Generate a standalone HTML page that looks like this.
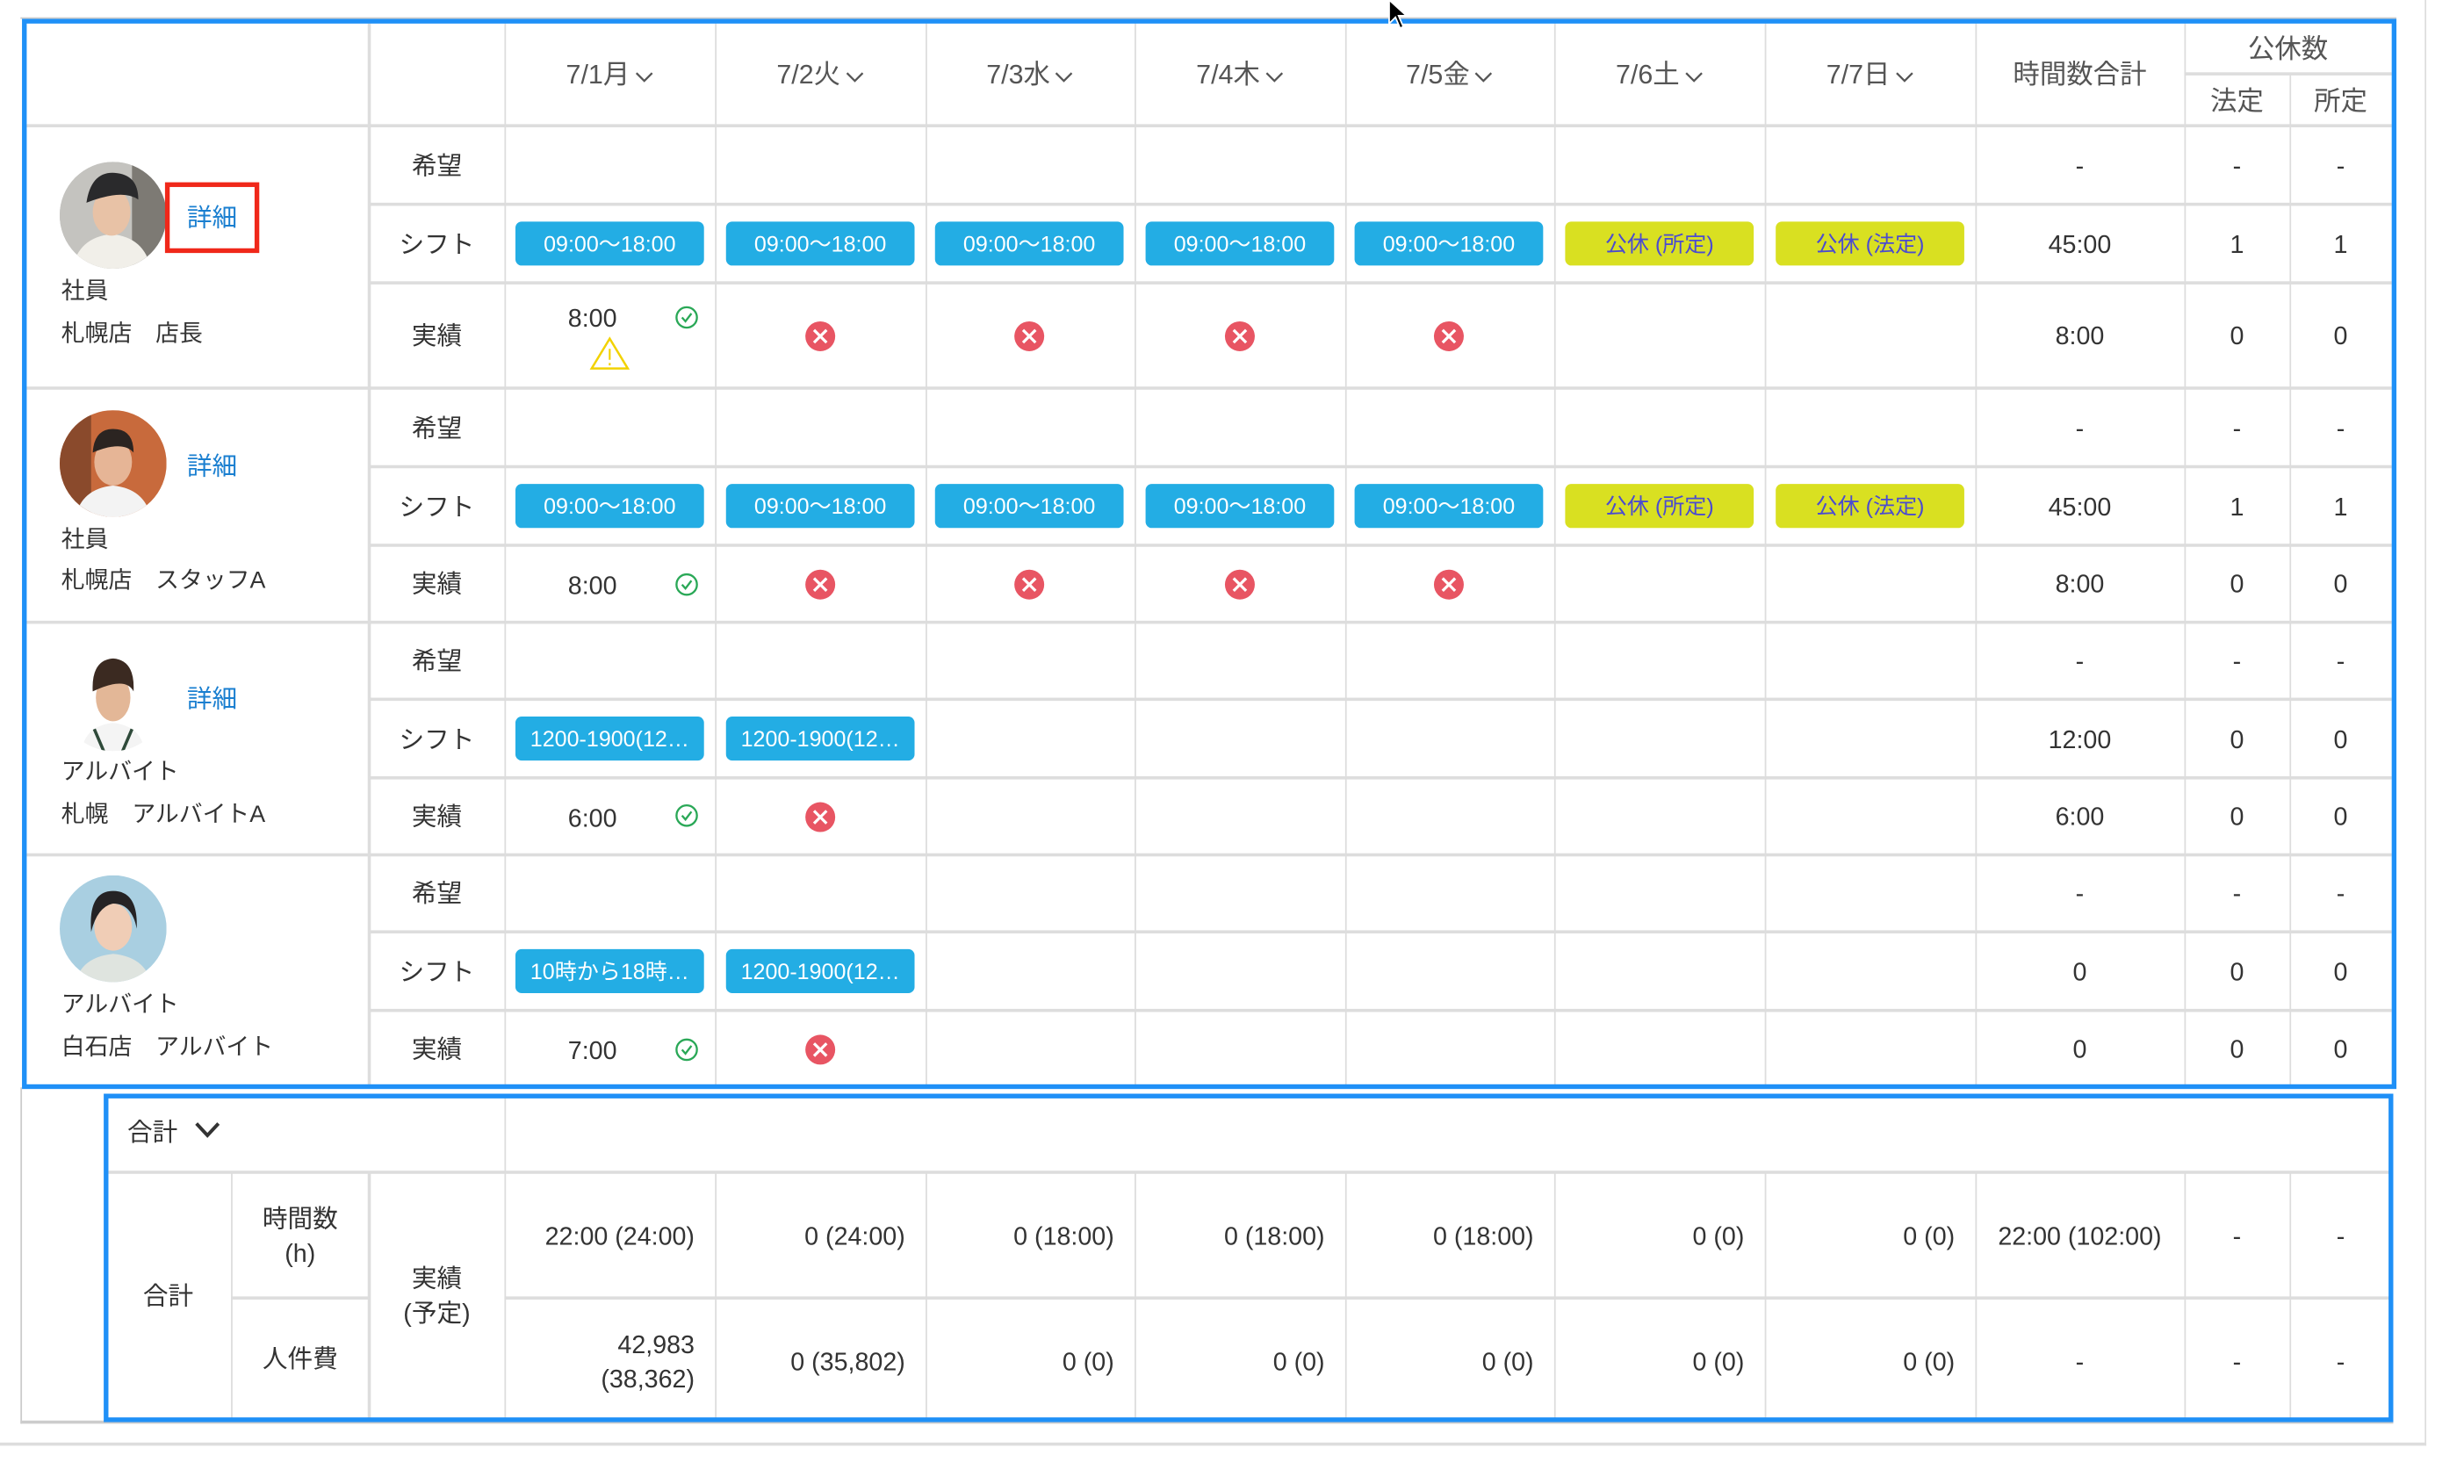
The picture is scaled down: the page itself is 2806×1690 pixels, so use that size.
<!DOCTYPE html>
<html><head><meta charset="utf-8">
<style>
html,body{margin:0;padding:0;background:#fff;}
body{width:2806px;height:1690px;overflow:hidden;position:relative;}
#w{position:absolute;left:0;top:0;width:1568px;height:944.4px;transform:scale(1.78954);transform-origin:0 0;font-family:"Liberation Sans","Noto Sans CJK JP",sans-serif;color:#333;font-size:16px;}
#w div{position:absolute;box-sizing:border-box;}
.h{height:2px;background:#ddd;}
.hl{height:1px;background:#ddd;}
.v{width:1px;background:#ddd;}
.c{display:flex;align-items:center;justify-content:center;text-align:center;line-height:1.35;white-space:nowrap;padding-top:3px;}
.r{display:flex;align-items:center;justify-content:flex-end;text-align:right;line-height:1.35;white-space:nowrap;padding-top:3px;}
.hd{color:#555;font-size:17px;}
.b{background:#23ade4;color:#fff;font-size:14px;border-radius:4px;display:flex;align-items:center;justify-content:center;white-space:nowrap;}
.y{background:#d9e021;color:#4b4bd0;font-size:14px;border-radius:4px;display:flex;align-items:center;justify-content:center;white-space:nowrap;}
.lnk{color:#1a7fd0;font-size:16px;}
.t{font-size:15px;color:#333;white-space:nowrap;}
</style></head><body><div id="w">

<div style="left:1543px;top:0;width:1px;height:920px;background:#ddd"></div>
<div style="left:0;top:918px;width:1544px;height:2px;background:#ddd"></div>
<div style="left:13px;top:11px;width:1512px;height:1px;background:#ccc"></div>
<div style="left:13px;top:692px;width:1px;height:214px;background:#ccc"></div>
<div style="left:13px;top:904px;width:1510px;height:2px;background:#ccc"></div>

<div class="h" style="left:17px;top:79px;width:1505px"></div>
<div class="h" style="left:17px;top:246px;width:1505px"></div>
<div class="h" style="left:17px;top:395px;width:1505px"></div>
<div class="h" style="left:17px;top:543px;width:1505px"></div>
<div class="h" style="left:235px;top:129px;width:1287px"></div>
<div class="h" style="left:235px;top:179px;width:1287px"></div>
<div class="h" style="left:235px;top:296px;width:1287px"></div>
<div class="h" style="left:235px;top:346px;width:1287px"></div>
<div class="h" style="left:235px;top:444px;width:1287px"></div>
<div class="h" style="left:235px;top:494px;width:1287px"></div>
<div class="h" style="left:235px;top:592px;width:1287px"></div>
<div class="h" style="left:235px;top:642px;width:1287px"></div>
<div class="h" style="left:1390px;top:46px;width:132px"></div>
<div class="v" style="left:234px;top:15px;height:677px;width:2px"></div>
<div class="v" style="left:321px;top:15px;height:677px"></div>
<div class="v" style="left:455px;top:15px;height:677px"></div>
<div class="v" style="left:589px;top:15px;height:677px"></div>
<div class="v" style="left:722px;top:15px;height:677px"></div>
<div class="v" style="left:856px;top:15px;height:677px"></div>
<div class="v" style="left:989px;top:15px;height:677px"></div>
<div class="v" style="left:1123px;top:15px;height:677px"></div>
<div class="v" style="left:1257px;top:15px;height:677px"></div>
<div class="v" style="left:1390px;top:15px;height:677px"></div>
<div class="v" style="left:1457px;top:47px;height:645px"></div>

<div style="left:14px;top:12px;width:1511px;height:681px;border:3px solid #1f90f7"></div>

<div class="c hd" style="left:321px;top:15px;width:134px;height:64px">7/1月<svg width="12" height="8" viewBox="0 0 12 8" style="margin-left:3px"><path d="M1 1.5 6 6.5 11 1.5" fill="none" stroke="#555" stroke-width="1.3"/></svg></div>
<div class="c hd" style="left:455px;top:15px;width:134px;height:64px">7/2火<svg width="12" height="8" viewBox="0 0 12 8" style="margin-left:3px"><path d="M1 1.5 6 6.5 11 1.5" fill="none" stroke="#555" stroke-width="1.3"/></svg></div>
<div class="c hd" style="left:589px;top:15px;width:133px;height:64px">7/3水<svg width="12" height="8" viewBox="0 0 12 8" style="margin-left:3px"><path d="M1 1.5 6 6.5 11 1.5" fill="none" stroke="#555" stroke-width="1.3"/></svg></div>
<div class="c hd" style="left:722px;top:15px;width:134px;height:64px">7/4木<svg width="12" height="8" viewBox="0 0 12 8" style="margin-left:3px"><path d="M1 1.5 6 6.5 11 1.5" fill="none" stroke="#555" stroke-width="1.3"/></svg></div>
<div class="c hd" style="left:856px;top:15px;width:133px;height:64px">7/5金<svg width="12" height="8" viewBox="0 0 12 8" style="margin-left:3px"><path d="M1 1.5 6 6.5 11 1.5" fill="none" stroke="#555" stroke-width="1.3"/></svg></div>
<div class="c hd" style="left:989px;top:15px;width:134px;height:64px">7/6土<svg width="12" height="8" viewBox="0 0 12 8" style="margin-left:3px"><path d="M1 1.5 6 6.5 11 1.5" fill="none" stroke="#555" stroke-width="1.3"/></svg></div>
<div class="c hd" style="left:1123px;top:15px;width:134px;height:64px">7/7日<svg width="12" height="8" viewBox="0 0 12 8" style="margin-left:3px"><path d="M1 1.5 6 6.5 11 1.5" fill="none" stroke="#555" stroke-width="1.3"/></svg></div>
<div class="c hd" style="left:1257px;top:15px;width:133px;height:64px">時間数合計</div>
<div class="c hd" style="left:1390px;top:15px;width:132px;height:32px">公休数</div>
<div class="c hd" style="left:1390px;top:48px;width:67px;height:32px">法定</div>
<div class="c hd" style="left:1457px;top:48px;width:65px;height:32px">所定</div>

<div class="c" style="left:235px;top:80px;width:86px;height:50px">希望</div>
<div class="c" style="left:235px;top:130px;width:86px;height:50px">シフト</div>
<div class="c" style="left:235px;top:180px;width:86px;height:67px">実績</div>
<div class="c" style="left:235px;top:247px;width:86px;height:50px">希望</div>
<div class="c" style="left:235px;top:297px;width:86px;height:50px">シフト</div>
<div class="c" style="left:235px;top:347px;width:86px;height:49px">実績</div>
<div class="c" style="left:235px;top:396px;width:86px;height:49px">希望</div>
<div class="c" style="left:235px;top:445px;width:86px;height:50px">シフト</div>
<div class="c" style="left:235px;top:495px;width:86px;height:49px">実績</div>
<div class="c" style="left:235px;top:544px;width:86px;height:49px">希望</div>
<div class="c" style="left:235px;top:593px;width:86px;height:50px">シフト</div>
<div class="c" style="left:235px;top:643px;width:86px;height:49px">実績</div>

<div style="left:38px;top:103px;width:68px;height:68px;border-radius:50%;overflow:hidden;background:#b9b9b6">
<svg width="68" height="68" viewBox="0 0 68 68"><rect width="68" height="68" fill="#c4c3bf"/><rect x="46" y="0" width="22" height="68" fill="#7d7a74"/><path d="M8 68 Q12 48 33 46 Q54 48 58 68Z" fill="#f1efe9"/><ellipse cx="33" cy="32" rx="12" ry="15" fill="#e8c2a6"/><path d="M17 26 Q20 6 35 7 Q50 8 50 24 Q40 17 17 26Z" fill="#2a2a2c"/></svg></div>
<div style="left:105px;top:116px;width:60px;height:45px;border:3px solid #f0281a"></div>
<div class="c lnk" style="left:105px;top:116px;width:60px;height:45px">詳細</div>
<div class="t" style="left:39px;top:174px">社員</div>
<div class="t" style="left:39px;top:201px">札幌店　店長</div>

<div style="left:38px;top:261px;width:68px;height:68px;border-radius:50%;overflow:hidden">
<svg width="68" height="68" viewBox="0 0 68 68"><rect width="68" height="68" fill="#c86a3c"/><rect x="0" y="0" width="20" height="68" fill="#8a4a2c"/><path d="M10 68 Q14 50 34 48 Q54 50 58 68Z" fill="#f3f3f3"/><ellipse cx="34" cy="33" rx="12" ry="15" fill="#e6b596"/><path d="M21 27 Q22 12 34 12 Q47 12 47 27 Q40 19 21 27Z" fill="#2b2421"/></svg></div>
<div class="c lnk" style="left:105px;top:283px;width:60px;height:26px">詳細</div>
<div class="t" style="left:39px;top:332px">社員</div>
<div class="t" style="left:39px;top:358px">札幌店　スタッフA</div>

<div style="left:38px;top:410px;width:68px;height:68px;border-radius:50%;overflow:hidden">
<svg width="68" height="68" viewBox="0 0 68 68"><rect width="68" height="68" fill="#fff"/><path d="M14 68 Q16 52 34 50 Q52 52 54 68Z" fill="#f4f4f4"/><path d="M22 54 L28 68 M46 54 L40 68" stroke="#2f4a3a" stroke-width="2"/><ellipse cx="34" cy="34" rx="11" ry="15" fill="#e3b797"/><path d="M21 30 Q20 10 34 9 Q48 10 47 30 Q42 20 21 30Z" fill="#3b2a21"/></svg></div>
<div class="c lnk" style="left:105px;top:431px;width:60px;height:26px">詳細</div>
<div class="t" style="left:39px;top:480px">アルバイト</div>
<div class="t" style="left:39px;top:507px">札幌　アルバイトA</div>

<div style="left:38px;top:557px;width:68px;height:68px;border-radius:50%;overflow:hidden">
<svg width="68" height="68" viewBox="0 0 68 68"><rect width="68" height="68" fill="#a9cfe1"/><path d="M10 68 Q14 52 34 50 Q54 52 58 68Z" fill="#dfe4df"/><ellipse cx="34" cy="33" rx="12" ry="15" fill="#f0cdb6"/><path d="M20 36 Q18 10 34 10 Q50 10 49 34 Q46 18 34 18 Q24 20 20 36Z" fill="#252325"/></svg></div>
<div class="t" style="left:39px;top:628px">アルバイト</div>
<div class="t" style="left:39px;top:655px">白石店　アルバイト</div>

<div class="b" style="left:328px;top:141px;width:120px;height:28px">09:00～18:00</div>
<div class="b" style="left:462px;top:141px;width:120px;height:28px">09:00～18:00</div>
<div class="b" style="left:595px;top:141px;width:120px;height:28px">09:00～18:00</div>
<div class="b" style="left:729px;top:141px;width:120px;height:28px">09:00～18:00</div>
<div class="b" style="left:862px;top:141px;width:120px;height:28px">09:00～18:00</div>
<div class="y" style="left:996px;top:141px;width:120px;height:28px">公休 (所定)</div>
<div class="y" style="left:1130px;top:141px;width:120px;height:28px">公休 (法定)</div>

<div class="b" style="left:328px;top:308px;width:120px;height:28px">09:00～18:00</div>
<div class="b" style="left:462px;top:308px;width:120px;height:28px">09:00～18:00</div>
<div class="b" style="left:595px;top:308px;width:120px;height:28px">09:00～18:00</div>
<div class="b" style="left:729px;top:308px;width:120px;height:28px">09:00～18:00</div>
<div class="b" style="left:862px;top:308px;width:120px;height:28px">09:00～18:00</div>
<div class="y" style="left:996px;top:308px;width:120px;height:28px">公休 (所定)</div>
<div class="y" style="left:1130px;top:308px;width:120px;height:28px">公休 (法定)</div>

<div class="b" style="left:328px;top:456px;width:120px;height:28px">1200-1900(12…</div>
<div class="b" style="left:462px;top:456px;width:120px;height:28px">1200-1900(12…</div>
<div class="b" style="left:328px;top:604px;width:120px;height:28px">10時から18時…</div>
<div class="b" style="left:462px;top:604px;width:120px;height:28px">1200-1900(12…</div>

<div class="c" style="left:345px;top:190px;width:64px;height:24px">8:00</div>
<div style="left:375px;top:214px"><svg width="26" height="22" viewBox="0 0 26 22"><path d="M13 1.5 24.5 20.5H1.5Z" fill="none" stroke="#f2d200" stroke-width="1.4"/><path d="M13 8v7M13 17v1.5" stroke="#f2d200" stroke-width="1.2"/></svg></div>
<div class="c" style="left:345px;top:360px;width:64px;height:24px">8:00</div>
<div class="c" style="left:345px;top:508px;width:64px;height:24px">6:00</div>
<div class="c" style="left:345px;top:656px;width:64px;height:24px">7:00</div>

<svg style="position:absolute;left:0;top:0" width="1568" height="944">
<defs>
<g id="ok"><circle r="6.5" fill="none" stroke="#2aa857" stroke-width="1.3"/><path d="M-3 0 -0.8 2.5 3 -2.5" fill="none" stroke="#2aa857" stroke-width="1.3"/></g>
<g id="ng"><circle r="9.5" fill="#e85563"/><path d="M-4 -4 4 4M4 -4 -4 4" stroke="#fff" stroke-width="1.8"/></g>
</defs>
<use href="#ok" x="437" y="202"/><use href="#ok" x="437" y="372"/><use href="#ok" x="437" y="519"/><use href="#ok" x="437" y="668"/>
<use href="#ng" x="522" y="214"/><use href="#ng" x="655" y="214"/><use href="#ng" x="789" y="214"/><use href="#ng" x="922" y="214"/>
<use href="#ng" x="522" y="372"/><use href="#ng" x="655" y="372"/><use href="#ng" x="789" y="372"/><use href="#ng" x="922" y="372"/>
<use href="#ng" x="522" y="520"/><use href="#ng" x="522" y="668"/>
</svg>

<div class="c" style="left:1257px;top:80px;width:133px;height:50px">-</div>
<div class="c" style="left:1390px;top:80px;width:67px;height:50px">-</div>
<div class="c" style="left:1457px;top:80px;width:65px;height:50px">-</div>
<div class="c" style="left:1257px;top:130px;width:133px;height:50px">45:00</div>
<div class="c" style="left:1390px;top:130px;width:67px;height:50px">1</div>
<div class="c" style="left:1457px;top:130px;width:65px;height:50px">1</div>
<div class="c" style="left:1257px;top:180px;width:133px;height:67px">8:00</div>
<div class="c" style="left:1390px;top:180px;width:67px;height:67px">0</div>
<div class="c" style="left:1457px;top:180px;width:65px;height:67px">0</div>

<div class="c" style="left:1257px;top:247px;width:133px;height:50px">-</div>
<div class="c" style="left:1390px;top:247px;width:67px;height:50px">-</div>
<div class="c" style="left:1457px;top:247px;width:65px;height:50px">-</div>
<div class="c" style="left:1257px;top:297px;width:133px;height:50px">45:00</div>
<div class="c" style="left:1390px;top:297px;width:67px;height:50px">1</div>
<div class="c" style="left:1457px;top:297px;width:65px;height:50px">1</div>
<div class="c" style="left:1257px;top:347px;width:133px;height:49px">8:00</div>
<div class="c" style="left:1390px;top:347px;width:67px;height:49px">0</div>
<div class="c" style="left:1457px;top:347px;width:65px;height:49px">0</div>

<div class="c" style="left:1257px;top:396px;width:133px;height:49px">-</div>
<div class="c" style="left:1390px;top:396px;width:67px;height:49px">-</div>
<div class="c" style="left:1457px;top:396px;width:65px;height:49px">-</div>
<div class="c" style="left:1257px;top:445px;width:133px;height:50px">12:00</div>
<div class="c" style="left:1390px;top:445px;width:67px;height:50px">0</div>
<div class="c" style="left:1457px;top:445px;width:65px;height:50px">0</div>
<div class="c" style="left:1257px;top:495px;width:133px;height:49px">6:00</div>
<div class="c" style="left:1390px;top:495px;width:67px;height:49px">0</div>
<div class="c" style="left:1457px;top:495px;width:65px;height:49px">0</div>

<div class="c" style="left:1257px;top:544px;width:133px;height:49px">-</div>
<div class="c" style="left:1390px;top:544px;width:67px;height:49px">-</div>
<div class="c" style="left:1457px;top:544px;width:65px;height:49px">-</div>
<div class="c" style="left:1257px;top:593px;width:133px;height:50px">0</div>
<div class="c" style="left:1390px;top:593px;width:67px;height:50px">0</div>
<div class="c" style="left:1457px;top:593px;width:65px;height:50px">0</div>
<div class="c" style="left:1257px;top:643px;width:133px;height:49px">0</div>
<div class="c" style="left:1390px;top:643px;width:67px;height:49px">0</div>
<div class="c" style="left:1457px;top:643px;width:65px;height:49px">0</div>

<div class="h" style="left:67px;top:745px;width:1454px"></div>
<div class="h" style="left:147px;top:825px;width:88px"></div>
<div class="h" style="left:321px;top:825px;width:1200px"></div>
<div class="v" style="left:147px;top:746px;height:157px"></div>
<div class="v" style="left:234px;top:746px;height:157px;width:2px"></div>
<div class="v" style="left:321px;top:697px;height:206px"></div>
<div class="v" style="left:455px;top:746px;height:157px"></div>
<div class="v" style="left:589px;top:746px;height:157px"></div>
<div class="v" style="left:722px;top:746px;height:157px"></div>
<div class="v" style="left:856px;top:746px;height:157px"></div>
<div class="v" style="left:989px;top:746px;height:157px"></div>
<div class="v" style="left:1123px;top:746px;height:157px"></div>
<div class="v" style="left:1257px;top:746px;height:157px"></div>
<div class="v" style="left:1390px;top:746px;height:157px"></div>
<div class="v" style="left:1457px;top:746px;height:157px"></div>
<div style="left:66px;top:696px;width:1457px;height:209px;border:3px solid #1f90f7"></div>

<div style="left:81px;top:707px;display:flex;align-items:center;white-space:nowrap">合計<svg width="18" height="12" viewBox="0 0 18 12" style="margin-left:10px"><path d="M2 2 9 9.5 16 2" fill="none" stroke="#333" stroke-width="2.2"/></svg></div>
<div class="c" style="left:67px;top:746px;width:80px;height:157px">合計</div>
<div class="c" style="left:147px;top:746px;width:88px;height:80px">時間数<br>(h)</div>
<div class="c" style="left:147px;top:826px;width:88px;height:77px">人件費</div>
<div class="c" style="left:235px;top:746px;width:86px;height:157px">実績<br>(予定)</div>

<div class="r" style="left:321px;top:746px;width:121px;height:80px">22:00 (24:00)</div>
<div class="r" style="left:455px;top:746px;width:121px;height:80px">0 (24:00)</div>
<div class="r" style="left:589px;top:746px;width:120px;height:80px">0 (18:00)</div>
<div class="r" style="left:722px;top:746px;width:121px;height:80px">0 (18:00)</div>
<div class="r" style="left:856px;top:746px;width:120px;height:80px">0 (18:00)</div>
<div class="r" style="left:989px;top:746px;width:121px;height:80px">0 (0)</div>
<div class="r" style="left:1123px;top:746px;width:121px;height:80px">0 (0)</div>
<div class="c" style="left:1257px;top:746px;width:133px;height:80px">22:00 (102:00)</div>
<div class="c" style="left:1390px;top:746px;width:67px;height:80px">-</div>
<div class="c" style="left:1457px;top:746px;width:65px;height:80px">-</div>

<div class="r" style="left:321px;top:840px;width:121px;height:52px">42,983<br>(38,362)</div>
<div class="r" style="left:455px;top:826px;width:121px;height:80px">0 (35,802)</div>
<div class="r" style="left:589px;top:826px;width:120px;height:80px">0 (0)</div>
<div class="r" style="left:722px;top:826px;width:121px;height:80px">0 (0)</div>
<div class="r" style="left:856px;top:826px;width:120px;height:80px">0 (0)</div>
<div class="r" style="left:989px;top:826px;width:121px;height:80px">0 (0)</div>
<div class="r" style="left:1123px;top:826px;width:121px;height:80px">0 (0)</div>
<div class="c" style="left:1257px;top:826px;width:133px;height:80px">-</div>
<div class="c" style="left:1390px;top:826px;width:67px;height:80px">-</div>
<div class="c" style="left:1457px;top:826px;width:65px;height:80px">-</div>

<svg style="position:absolute;left:883px;top:0" width="14" height="20" viewBox="0 0 14 20"><path d="M1 0 1 15 5 11 8 18 10 17 7 10 12 10Z" fill="#000" stroke="#fff" stroke-width="1"/></svg>

</div></body></html>
